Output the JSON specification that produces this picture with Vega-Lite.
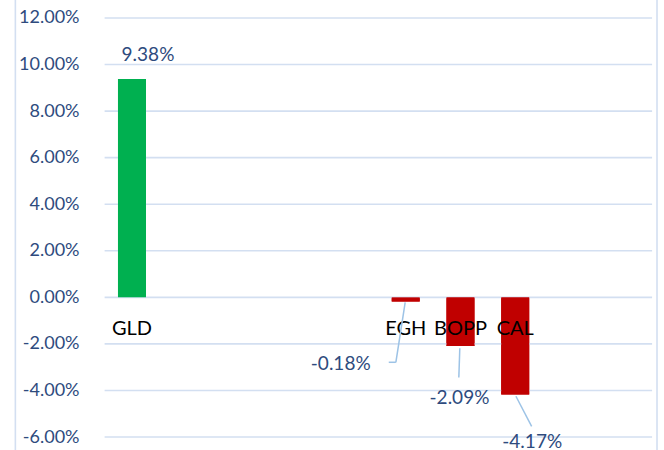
{
  "$schema": "https://vega.github.io/schema/vega-lite/v6.json",
  "width": 654,
  "height": 450,
  "padding": {"left": 9, "top": 0, "right": 1, "bottom": 0},
  "autosize": {"type": "none"},
  "background": "white",
  "config": {"view": {"stroke": null}, "font": "Lato"},
  "datasets": {
    "returns": [
      {"slot": 1, "ticker": "GLD", "ret": 0.0938},
      {"slot": 6, "ticker": "EGH", "ret": -0.0018},
      {"slot": 7, "ticker": "BOPP", "ret": -0.0209},
      {"slot": 8, "ticker": "CAL", "ret": -0.0417}
    ],
    "grid": [
      {"y": -0.06}, {"y": -0.04}, {"y": -0.02}, {"y": 0}, {"y": 0.02},
      {"y": 0.04}, {"y": 0.06}, {"y": 0.08}, {"y": 0.1}, {"y": 0.12}
    ],
    "one": [{"k": 1}]
  },
  "layer": [
    {
      "data": {"name": "returns"},
      "mark": {"type": "bar", "width": 28},
      "encoding": {
        "x": {"field": "slot", "type": "quantitative", "axis": null,
              "scale": {"domain": [-1.155, 10.608], "nice": false, "zero": false}},
        "y": {"field": "ret", "type": "quantitative",
              "scale": {"domain": [-0.06558, 0.12773], "nice": false, "zero": false},
              "axis": {"orient": "left", "offset": -70, "values": [-0.06, -0.04, -0.02, 0, 0.02, 0.04, 0.06, 0.08, 0.1, 0.12],
                       "labelExpr": "replace(format(datum.value, '.2%'), '\u2212', '-')",
                       "labelColor": "#2E4B7E", "labelFont": "Lato", "labelFontSize": 18,
                       "ticks": false, "domain": false, "grid": false, "title": null, "labelPadding": 0,
                       "labelOverlap": false, "labelFlush": false}},
        "color": {"condition": {"test": "datum.ret > 0", "value": "#00B050"}, "value": "#C00000"}
      }
    },
    {
      "data": {"name": "grid"},
      "mark": {"type": "rule", "stroke": "#D3DFF1", "strokeWidth": 1.6},
      "encoding": {
        "x": {"datum": 0.5, "type": "quantitative"},
        "x2": {"datum": 10.5},
        "y": {"field": "y", "type": "quantitative"}
      }
    },
    {
      "data": {"name": "one"},
      "mark": {"type": "rule", "stroke": "#D3DFF1", "strokeWidth": 1.6},
      "encoding": {
        "x": {"datum": -1.13, "type": "quantitative"},
        "y": {"datum": -0.06558, "type": "quantitative"},
        "y2": {"datum": 0.12773}
      }
    },
    {
      "data": {"name": "one"},
      "mark": {"type": "rule", "stroke": "#D3DFF1", "strokeWidth": 1.6},
      "encoding": {
        "x": {"datum": 10.59, "type": "quantitative"},
        "y": {"datum": -0.06558, "type": "quantitative"},
        "y2": {"datum": 0.12773}
      }
    },
    {
      "data": {"name": "returns"},
      "mark": {"type": "bar", "width": 28},
      "encoding": {
        "x": {"field": "slot", "type": "quantitative"},
        "y": {"field": "ret", "type": "quantitative"},
        "color": {"condition": {"test": "datum.ret > 0", "value": "#00B050"}, "value": "#C00000"}
      }
    },
    {
      "data": {"name": "returns"},
      "mark": {"type": "text", "dy": 32, "fontSize": 20, "color": "#000000", "font": "Lato", "baseline": "middle"},
      "encoding": {
        "x": {"field": "slot", "type": "quantitative"},
        "y": {"datum": 0, "type": "quantitative"},
        "text": {"field": "ticker"}
      }
    },
    {
      "data": {"name": "one"},
      "mark": {"type": "rule", "stroke": "#9DC3E6", "strokeWidth": 1.5},
      "encoding": {"x": {"datum": 5.99, "type": "quantitative"}, "y": {"datum": -0.0022, "type": "quantitative"}, "x2": {"datum": 5.82}, "y2": {"datum": -0.0279}}
    },
    {
      "data": {"name": "one"},
      "mark": {"type": "rule", "stroke": "#9DC3E6", "strokeWidth": 1.5},
      "encoding": {"x": {"datum": 5.82, "type": "quantitative"}, "y": {"datum": -0.0279, "type": "quantitative"}, "x2": {"datum": 5.69}, "y2": {"datum": -0.0279}}
    },
    {
      "data": {"name": "one"},
      "mark": {"type": "rule", "stroke": "#9DC3E6", "strokeWidth": 1.5},
      "encoding": {"x": {"datum": 6.988, "type": "quantitative"}, "y": {"datum": -0.0219, "type": "quantitative"}, "x2": {"datum": 6.97}, "y2": {"datum": -0.0344}}
    },
    {
      "data": {"name": "one"},
      "mark": {"type": "rule", "stroke": "#9DC3E6", "strokeWidth": 1.5},
      "encoding": {"x": {"datum": 8.013, "type": "quantitative"}, "y": {"datum": -0.0425, "type": "quantitative"}, "x2": {"datum": 8.3}, "y2": {"datum": -0.0554}}
    },
    {
      "data": {"name": "returns"},
      "transform": [
        {"calculate": "replace(format(datum.ret, '.2%'), '\u2212', '-')", "as": "label"},
        {"filter": "datum.ticker === 'GLD'"}
      ],
      "mark": {"type": "text", "dx": 16, "dy": -24, "fontSize": 19, "color": "#2E4B7E", "font": "Lato", "baseline": "middle"},
      "encoding": {"x": {"field": "slot", "type": "quantitative"}, "y": {"field": "ret", "type": "quantitative"}, "text": {"field": "label"}}
    },
    {
      "data": {"name": "returns"},
      "transform": [
        {"calculate": "replace(format(datum.ret, '.2%'), '\u2212', '-')", "as": "label"},
        {"filter": "datum.ticker === 'EGH'"}
      ],
      "mark": {"type": "text", "dx": -65, "dy": 62, "fontSize": 19, "color": "#2E4B7E", "font": "Lato", "baseline": "middle"},
      "encoding": {"x": {"field": "slot", "type": "quantitative"}, "y": {"field": "ret", "type": "quantitative"}, "text": {"field": "label"}}
    },
    {
      "data": {"name": "returns"},
      "transform": [
        {"calculate": "replace(format(datum.ret, '.2%'), '\u2212', '-')", "as": "label"},
        {"filter": "datum.ticker === 'BOPP'"}
      ],
      "mark": {"type": "text", "dx": -1, "dy": 52, "fontSize": 19, "color": "#2E4B7E", "font": "Lato", "baseline": "middle"},
      "encoding": {"x": {"field": "slot", "type": "quantitative"}, "y": {"field": "ret", "type": "quantitative"}, "text": {"field": "label"}}
    },
    {
      "data": {"name": "returns"},
      "transform": [
        {"calculate": "replace(format(datum.ret, '.2%'), '\u2212', '-')", "as": "label"},
        {"filter": "datum.ticker === 'CAL'"}
      ],
      "mark": {"type": "text", "dx": 17, "dy": 48, "fontSize": 19, "color": "#2E4B7E", "font": "Lato", "baseline": "middle"},
      "encoding": {"x": {"field": "slot", "type": "quantitative"}, "y": {"field": "ret", "type": "quantitative"}, "text": {"field": "label"}}
    }
  ]
}
